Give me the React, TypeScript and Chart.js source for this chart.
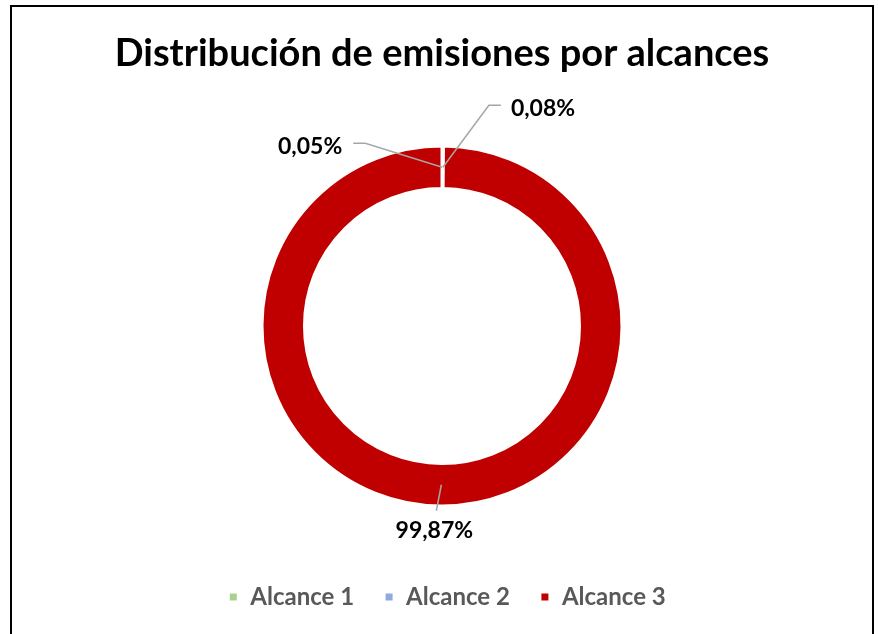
import React, { useEffect, useRef } from "react";
import { Chart, registerables } from "chart.js";

Chart.register(...registerables);

const TITLE = "Distribución de emisiones por alcances";
const categories = ["Alcance 1", "Alcance 2", "Alcance 3"];
const shares = [0.05, 0.08, 99.87];
const colors = ["#A9D18E", "#8FAADC", "#C00000"];

const FONT = "Lato, 'Open Sans', sans-serif";

const fmt = (v: number) => v.toFixed(2).replace(".", ",") + "%";

// Leader-line label placement, relative to each slice's mid-ring anchor.
// elbow / end are points of the leader; text is the label anchor.
const leaderLayout = [
  { elbow: [-77, -24], end: [-89, -24], text: [-100, -21], align: "right" },
  { elbow: [46, -62], end: [58, -62], text: [68, -59], align: "left" },
  { elbow: null, end: [-5, 26], text: [-7, 46], align: "center" },
];

const framePlugin = {
  id: "frame",
  afterLayout(chart: any) {
    // nudge the legend row slightly to the right of the plot centre
    if (chart.legend) {
      chart.legend.left += 5;
      chart.legend.right += 5;
    }
  },
  beforeDraw(chart: any) {
    const { ctx, width, height } = chart;
    ctx.save();
    ctx.fillStyle = "#ffffff";
    ctx.fillRect(0, 0, width, height);
    ctx.strokeStyle = "#000000";
    ctx.lineWidth = 2;
    ctx.strokeRect(11, 6, 862, height + 20);
    ctx.restore();
  },
};

const leaderLabelPlugin = {
  id: "leaderLabels",
  afterDatasetsDraw(chart: any) {
    const { ctx } = chart;
    const meta = chart.getDatasetMeta(0);
    const values = chart.data.datasets[0].data as number[];
    ctx.save();
    meta.data.forEach((arc: any, i: number) => {
      const mid = (arc.startAngle + arc.endAngle) / 2;
      const r = (arc.innerRadius + arc.outerRadius) / 2;
      const ax = arc.x + Math.cos(mid) * r;
      const ay = arc.y + Math.sin(mid) * r;
      const lay = leaderLayout[i];
      ctx.strokeStyle = "#A6A6A6";
      ctx.lineWidth = 1.5;
      ctx.beginPath();
      ctx.moveTo(ax, ay);
      if (lay.elbow) ctx.lineTo(ax + lay.elbow[0], ay + lay.elbow[1]);
      ctx.lineTo(ax + lay.end[0], ay + lay.end[1]);
      ctx.stroke();
      ctx.fillStyle = "#000000";
      ctx.font = `bold 23px ${FONT}`;
      ctx.textAlign = lay.align;
      ctx.textBaseline = "middle";
      ctx.fillText(fmt(values[i]), ax + lay.text[0], ay + lay.text[1]);
    });
    ctx.restore();
  },
};

export default function App() {
  const canvasRef = useRef<HTMLCanvasElement | null>(null);

  useEffect(() => {
    const canvas = canvasRef.current;
    if (!canvas) return;
    const chart = new Chart(canvas, {
      type: "doughnut",
      data: {
        labels: categories,
        datasets: [
          {
            data: shares,
            backgroundColor: colors,
            borderColor: "#ffffff",
            borderWidth: 3,
            radius: 180,
            cutout: "76.4%",
          },
        ],
      },
      options: {
        animation: false,
        responsive: false,
        maintainAspectRatio: false,
        layout: { padding: { left: 6, right: 0, top: 0, bottom: 15 } },
        plugins: {
          title: {
            display: true,
            text: TITLE,
            color: "#000000",
            font: { family: FONT, size: 38, weight: "bold", lineHeight: 1.2 },
            padding: { top: 31, bottom: 20.4 },
          },
          legend: {
            position: "bottom",
            labels: {
              boxWidth: 10,
              boxHeight: 10,
              padding: 30,
              color: "#595959",
              font: { family: FONT, size: 24, weight: "bold" },
            },
          },
          tooltip: { enabled: false },
        },
      },
      plugins: [framePlugin, leaderLabelPlugin],
    });
    return () => chart.destroy();
  }, []);

  return (
    <div style={{ position: "fixed", left: 0, top: 0, width: 878, height: 634, background: "#fff" }}>
      <canvas ref={canvasRef} width={878} height={634} style={{ display: "block" }} />
    </div>
  );
}
